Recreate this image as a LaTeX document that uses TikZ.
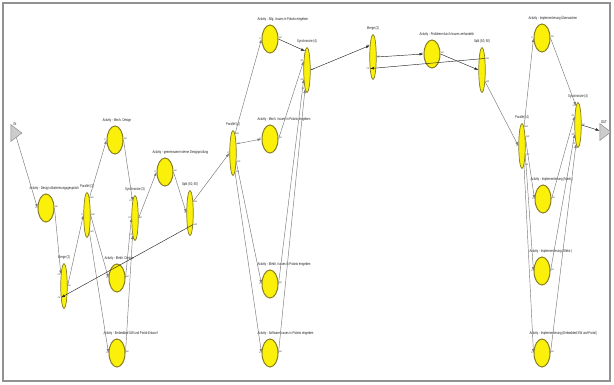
\documentclass[tikz,border=0pt]{standalone}
\usepackage{fontspec}
\setmainfont{Liberation Sans}
\newfontfamily\tinyfont[FakeStretch=0.7]{Liberation Sans}
\usetikzlibrary{arrows.meta, positioning, shapes.geometric}
\definecolor{actfill}{RGB}{250,240,10}
\definecolor{actline}{RGB}{135,125,35}
\definecolor{wire}{RGB}{120,120,120}
\definecolor{framegray}{RGB}{145,145,145}
\tikzset{%
  act/.style={ellipse, draw=actline, line width=1pt, fill=actfill,
    minimum width=16pt, minimum height=28pt, inner sep=0pt,
    label={[port, anchor=east]180:in}, label={[port, anchor=west]10:out}},
  gate/.style={ellipse, draw=actline, line width=0.7pt, fill=actfill,
    minimum width=6.5pt, minimum height=45pt, inner sep=0pt},
  term/.style={isosceles triangle, isosceles triangle apex angle=75,
    draw=gray, fill=gray!40, minimum height=11pt, inner sep=0pt},
  lbl/.style={font=\fontsize{4}{4.2}\tinyfont, inner sep=0.3pt, text=black!90},
  port/.style={font=\fontsize{2.6}{3}\tinyfont, inner sep=0.4pt, text=black!80},
  flow/.style={draw=wire, line width=0.45pt, -{Latex[length=4pt,width=2.6pt]}},
  dark/.style={draw=black!85},
  frame/.style={draw=framegray, line width=2.8pt}
}
\begin{document}
\begin{tikzpicture}[x=1pt, y=-1pt]
  \useasboundingbox (0,0) rectangle (614,384);
  \draw[frame] (3,3) rectangle (610,381);

  % Design
  \node[term] (in) at (15,133) {};
  \node[lbl, above=2pt of in] (in-t) {IN};
  \node[act] (design) at (46,208) {};
  \node[lbl, above right=3pt and -17pt of design.north] (design-t) {Activity - Design Abstimmungsgespr\"ach};
  \node[gate, label={[port, anchor=east]105:in1}, label={[port, anchor=east]-105:in2},
    label={[port, anchor=west]0:out}] (merge) at (64,286) {};
  \node[lbl, above=3pt of merge] (merge-t) {Merge (2)};
  \node[gate, label={[port, anchor=east]180:in}, label={[port, anchor=west]82:out1},
    label={[port, anchor=west]0:out2}, label={[port, anchor=west]-82:out3}] (par3) at (87,215) {};
  \node[lbl, above=3pt of par3] (par3-t) {Parallel (3)};
  \node[act] (mechd) at (115,140) {};
  \node[lbl, above right=3pt and -13pt of mechd.north] (mechd-t) {Activity - Mech. Design};
  \node[act] (elekd) at (117,278) {};
  \node[lbl, above right=3pt and -13pt of elekd.north] (elekd-t) {Activity - Elektr. Design};
  \node[act] (emb) at (117,353) {};
  \node[lbl, above right=3pt and -14pt of emb.north] (emb-t) {Activity - Embedded SW und Portal-Entwurf};
  \node[gate, label={[port, anchor=east]98:in1}, label={[port, anchor=east]180:in2},
    label={[port, anchor=east]-98:in3}, label={[port, anchor=west]0:out}] (sync3) at (135,218) {};
  \node[lbl, above=3pt of sync3] (sync3-t) {Synchronize (3)};
  \node[act] (gem) at (165,172) {};
  \node[lbl, above right=3pt and -13pt of gem.north] (gem-t) {Activity - gemeinsame interne Designpr\"ufung};
  \node[gate, label={[port, anchor=east]180:in}, label={[port, anchor=west]75:out1},
    label={[port, anchor=west]-75:out2}] (split) at (190,213) {};
  \node[lbl, above=3pt of split] (split-t) {Split (50, 50)};

  % Issues
  \node[gate, label={[port, anchor=east]180:in}, label={[port, anchor=west]84:out1},
    label={[port, anchor=west]70:out2}, label={[port, anchor=west]-70:out3},
    label={[port, anchor=west]-84:out4}] (par4) at (233,153) {};
  \node[lbl, above=3pt of par4] (par4-t) {Parallel (4)};
  \node[act] (allg) at (270,39) {};
  \node[lbl, above right=3pt and -13pt of allg.north] (allg-t) {Activity - Allg. Issues in Polario eingeben};
  \node[act] (mechi) at (270,139) {};
  \node[lbl, above right=3pt and -13pt of mechi.north] (mechi-t) {Activity - Mech. Issues in Polario eingeben};
  \node[act] (elki) at (270,284) {};
  \node[lbl, above right=3pt and -13pt of elki.north] (elki-t) {Activity - Elektr. Issues in Polario eingeben};
  \node[act] (swi) at (270,353) {};
  \node[lbl, above right=3pt and -13pt of swi.north] (swi-t) {Activity - Software Issues in Polario eingeben};
  \node[gate, label={[port, anchor=east]96:in1}, label={[port, anchor=east]110:in2},
    label={[port, anchor=east]-110:in3}, label={[port, anchor=east]-96:in4},
    label={[port, anchor=west]0:out}] (sync4) at (307,70) {};
  \node[lbl, above=3pt of sync4] (sync4-t) {Synchronize (4)};

  % Review
  \node[gate, label={[port, anchor=east]105:in1}, label={[port, anchor=east]-105:in2},
    label={[port, anchor=west]0:out}] (merge2) at (373,57) {};
  \node[lbl, above=3pt of merge2] (merge2-t) {Merge (2)};
  \node[act] (prob) at (432,54) {};
  \node[lbl, above right=3pt and -13pt of prob.north] (prob-t) {Activity - Probleme durch Issues verhandeln};
  \node[gate, label={[port, anchor=east]180:in}, label={[port, anchor=west]75:out1},
    label={[port, anchor=west]-75:out2}] (split2) at (482,70) {};
  \node[lbl, above=3pt of split2] (split2-t) {Split (50, 50)};

  % Implementation
  \node[gate, label={[port, anchor=east]180:in}, label={[port, anchor=west]84:out1},
    label={[port, anchor=west]70:out2}, label={[port, anchor=west]-70:out3},
    label={[port, anchor=west]-84:out4}] (par4b) at (522,146) {};
  \node[lbl, above=3pt of par4b] (par4b-t) {Parallel (4)};
  \node[act] (ueb) at (542,38) {};
  \node[lbl, above right=3pt and -14pt of ueb.north] (ueb-t) {Activity - Implementierung \"Uberwachen};
  \node[act] (impm) at (543,199) {};
  \node[lbl, above right=3pt and -13pt of impm.north] (impm-t) {Activity - Implementierung (Mech.)};
  \node[act] (impe) at (542,271) {};
  \node[lbl, above right=3pt and -13pt of impe.north] (impe-t) {Activity - Implementierung (Elektr.)};
  \node[act] (impemb) at (542,353) {};
  \node[lbl, above right=3pt and -13pt of impemb.north] (impemb-t) {Activity - Implementierung (Embedded SW und Portal)};
  \node[gate, label={[port, anchor=east]96:in1}, label={[port, anchor=east]110:in2},
    label={[port, anchor=east]-110:in3}, label={[port, anchor=east]-96:in4},
    label={[port, anchor=west]0:out}] (sync4b) at (578,125) {};
  \node[lbl, above=3pt of sync4b] (sync4b-t) {Synchronize (4)};
  \node[term] (out) at (604,132) {};
  \node[lbl, above=2pt of out] (out-t) {OUT};

  % flows
  \draw[flow] (in) -- (design.west);
  \draw[flow] (design.east) -- (merge.105);
  \draw[flow] (merge.east) -- (par3.west);
  \draw[flow] (par3.82) -- (mechd.west);
  \draw[flow] (par3.east) -- (elekd.west);
  \draw[flow] (par3.-82) -- (emb.west);
  \draw[flow] (mechd.east) -- (sync3.98);
  \draw[flow] (elekd.east) -- (sync3.west);
  \draw[flow] (emb.east) -- (sync3.-98);
  \draw[flow] (sync3.east) -- (gem.west);
  \draw[flow] (gem.east) -- (split.west);
  \draw[flow, dark] (split.-75) -- (merge.-105);
  \draw[flow] (split.75) -- (par4.west);
  \draw[flow] (par4.84) -- (allg.west);
  \draw[flow] (par4.70) -- (mechi.west);
  \draw[flow] (par4.-70) -- (elki.west);
  \draw[flow] (par4.-84) -- (swi.west);
  \draw[flow, dark] (allg.east) -- (sync4.96);
  \draw[flow] (mechi.east) -- (sync4.110);
  \draw[flow] (elki.east) -- (sync4.-110);
  \draw[flow] (swi.east) -- (sync4.-96);
  \draw[flow, dark] (sync4.east) -- (merge2.105);
  \draw[flow, dark] (merge2.east) -- (prob.west);
  \draw[flow, dark] (prob.east) -- (split2.west);
  \draw[flow, dark] (split2.75) -- (merge2.-105);
  \draw[flow] (split2.-75) -- (par4b.west);
  \draw[flow] (par4b.84) -- (ueb.west);
  \draw[flow] (par4b.70) -- (impm.west);
  \draw[flow] (par4b.-70) -- (impe.west);
  \draw[flow] (par4b.-84) -- (impemb.west);
  \draw[flow] (ueb.east) -- (sync4b.96);
  \draw[flow] (impm.east) -- (sync4b.110);
  \draw[flow] (impe.east) -- (sync4b.-110);
  \draw[flow] (impemb.east) -- (sync4b.-96);
  \draw[flow, dark] (sync4b.east) -- (out);
\end{tikzpicture}
\end{document}
